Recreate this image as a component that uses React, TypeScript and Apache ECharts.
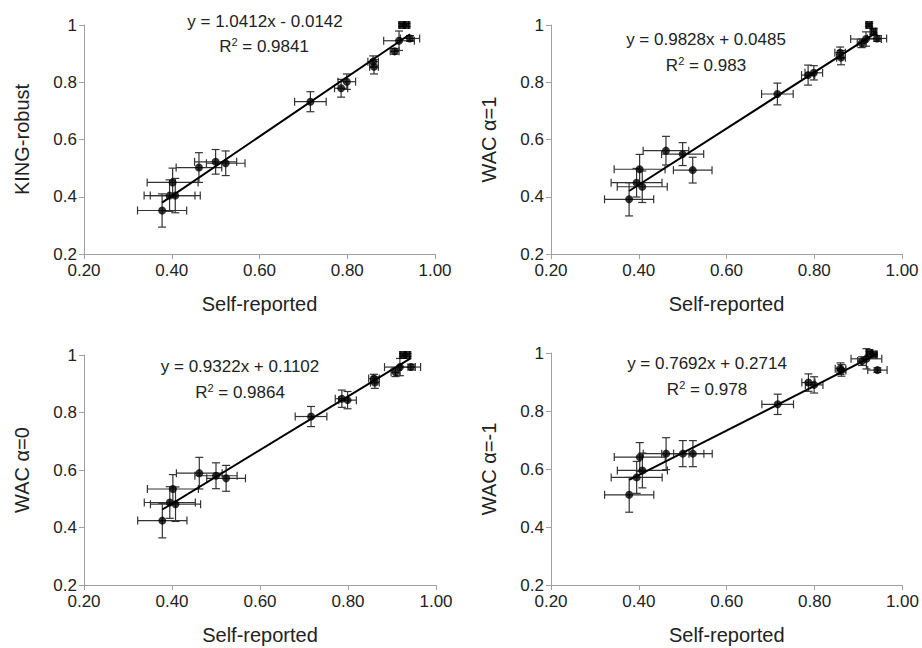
import React, { useEffect, useRef } from "react";
import * as echarts from "echarts";

const selfReported = [0.378, 0.395, 0.402, 0.408, 0.462, 0.5, 0.523, 0.716, 0.786, 0.799, 0.859, 0.861, 0.908, 0.918, 0.925, 0.935, 0.943];
const selfErr = [0.056, 0.058, 0.058, 0.057, 0.052, 0.048, 0.044, 0.036, 0.015, 0.02, 0.012, 0.01, 0.01, 0.035, 0.005, 0.005, 0.022];
const markerShapes = ["circle", "circle", "circle", "circle", "circle", "circle", "circle", "circle", "circle", "circle", "circle", "circle", "circle", "circle", "rect", "rect", "circle"];

const kingRobust = [0.352, 0.404, 0.45, 0.404, 0.502, 0.522, 0.517, 0.732, 0.779, 0.802, 0.872, 0.854, 0.908, 0.945, 1.0, 1.0, 0.953];
const kingErr = [0.058, 0.055, 0.05, 0.06, 0.052, 0.043, 0.043, 0.035, 0.031, 0.027, 0.02, 0.025, 0.01, 0.034, 0.005, 0.005, 0.01];

const wac1 = [0.391, 0.449, 0.496, 0.435, 0.561, 0.549, 0.493, 0.759, 0.825, 0.833, 0.903, 0.886, 0.936, 0.951, 1.0, 0.977, 0.953];
const wac1Err = [0.058, 0.05, 0.052, 0.055, 0.05, 0.04, 0.045, 0.038, 0.035, 0.025, 0.02, 0.025, 0.015, 0.025, 0.005, 0.01, 0.01];

const wac0 = [0.424, 0.487, 0.534, 0.481, 0.589, 0.58, 0.571, 0.786, 0.848, 0.843, 0.918, 0.904, 0.94, 0.958, 1.0, 1.0, 0.958];
const wac0Err = [0.06, 0.055, 0.05, 0.06, 0.055, 0.045, 0.045, 0.035, 0.03, 0.03, 0.015, 0.02, 0.015, 0.03, 0.005, 0.005, 0.01];

const wacM1 = [0.511, 0.571, 0.641, 0.595, 0.653, 0.653, 0.653, 0.823, 0.898, 0.89, 0.946, 0.94, 0.972, 0.98, 1.0, 0.995, 0.941];
const wacM1Err = [0.06, 0.055, 0.05, 0.06, 0.055, 0.045, 0.045, 0.035, 0.03, 0.028, 0.02, 0.02, 0.015, 0.035, 0.005, 0.005, 0.008];

const yNames = ["KING-robust", "WAC \u03b1=1", "WAC \u03b1=0", "WAC \u03b1=-1"];
const slopes = [1.0412, 0.9828, 0.9322, 0.7692];
const intercepts = [-0.0142, 0.0485, 0.1102, 0.2714];
const eqTexts = ["y = 1.0412x - 0.0142", "y = 0.9828x + 0.0485", "y = 0.9322x + 0.1102", "y = 0.7692x + 0.2714"];
const r2Texts = ["0.9841", "0.983", "0.9864", "0.978"];
const xTicks = [0.2, 0.4, 0.6, 0.8, 1.0];
const yTicks = [0.2, 0.4, 0.6, 0.8, 1.0];

const panelValues = [kingRobust, wac1, wac0, wacM1];
const panelErrs = [kingErr, wac1Err, wac0Err, wacM1Err];

const grids = [
  { left: 84, top: 25, width: 351, height: 229 },
  { left: 551, top: 25, width: 351, height: 229 },
  { left: 84, top: 355, width: 352, height: 230 },
  { left: 551, top: 353, width: 353, height: 232 },
];
const eqPos = [
  [265, 21, 264, 46],
  [706, 39, 706, 65],
  [240, 366, 240, 392],
  [707, 363, 707, 389],
];

const FONT = "'Liberation Sans', Arial, Helvetica, sans-serif";

export default function App() {
  const ref = useRef<HTMLDivElement>(null);
  useEffect(() => {
    document.body.style.margin = "0";
    if (!ref.current) return;
    const chart = echarts.init(ref.current, undefined, { renderer: "svg" });
    const xMin = Math.min(...selfReported);
    const xMax = Math.max(...selfReported);

    const xAxis: any[] = [];
    const yAxis: any[] = [];
    const series: any[] = [];
    const graphic: any[] = [];

    grids.forEach((g, i) => {
      xAxis.push({
        type: "value",
        gridIndex: i,
        min: xTicks[0],
        max: xTicks[xTicks.length - 1],
        interval: 0.2,
        name: "Self-reported",
        nameLocation: "middle",
        nameGap: 40,
        nameTextStyle: { fontSize: 20, color: "#222", fontFamily: FONT },
        axisLine: { lineStyle: { color: "#a0a0a0", width: 1 } },
        axisTick: { show: true, length: 5, lineStyle: { color: "#a0a0a0" } },
        axisLabel: { fontSize: 17, color: "#222", margin: 8, fontFamily: FONT, formatter: (v: number) => v.toFixed(2) },
        splitLine: { show: false },
      });
      yAxis.push({
        type: "value",
        gridIndex: i,
        min: yTicks[0],
        max: yTicks[yTicks.length - 1],
        interval: 0.2,
        name: yNames[i],
        nameLocation: "middle",
        nameGap: 52,
        nameTextStyle: { fontSize: 20, color: "#222", fontFamily: FONT },
        axisLine: { show: true, lineStyle: { color: "#a0a0a0", width: 1 } },
        axisTick: { show: true, length: 5, lineStyle: { color: "#a0a0a0" } },
        axisLabel: { fontSize: 17, color: "#222", margin: 7, fontFamily: FONT, formatter: (v: number) => (Math.abs(v - 1) < 1e-9 ? "1" : v.toFixed(1)) },
        splitLine: { show: false },
      });

      const vals = panelValues[i];
      const errs = panelErrs[i];
      const errData = selfReported.map((x, k) => [x, vals[k], selfErr[k], errs[k]]);
      series.push({
        type: "custom",
        xAxisIndex: i,
        yAxisIndex: i,
        data: errData,
        encode: { x: 0, y: 1 },
        z: 2,
        renderItem: (params: any, api: any) => {
          const x = api.value(0);
          const y = api.value(1);
          const ex = api.value(2);
          const ey = api.value(3);
          const l = api.coord([x - ex, y]);
          const r = api.coord([x + ex, y]);
          const b = api.coord([x, y - ey]);
          const t = api.coord([x, y + ey]);
          const st = { stroke: "#333", lineWidth: 1.2 };
          const cap = 4;
          return {
            type: "group",
            children: [
              { type: "line", shape: { x1: l[0], y1: l[1], x2: r[0], y2: r[1] }, style: st },
              { type: "line", shape: { x1: l[0], y1: l[1] - cap, x2: l[0], y2: l[1] + cap }, style: st },
              { type: "line", shape: { x1: r[0], y1: r[1] - cap, x2: r[0], y2: r[1] + cap }, style: st },
              { type: "line", shape: { x1: b[0], y1: b[1], x2: t[0], y2: t[1] }, style: st },
              { type: "line", shape: { x1: b[0] - cap, y1: b[1], x2: b[0] + cap, y2: b[1] }, style: st },
              { type: "line", shape: { x1: t[0] - cap, y1: t[1], x2: t[0] + cap, y2: t[1] }, style: st },
            ],
          };
        },
      });
      series.push({
        type: "line",
        xAxisIndex: i,
        yAxisIndex: i,
        data: [
          [xMin, slopes[i] * xMin + intercepts[i]],
          [xMax, slopes[i] * xMax + intercepts[i]],
        ],
        symbol: "none",
        lineStyle: { color: "#000", width: 2 },
        z: 3,
      });
      series.push({
        type: "scatter",
        xAxisIndex: i,
        yAxisIndex: i,
        data: selfReported.map((x, k) => ({ value: [x, vals[k]], symbol: markerShapes[k] })),
        symbolSize: 8,
        itemStyle: { color: "#000" },
        z: 4,
      });

      const p = eqPos[i];
      graphic.push({
        type: "text",
        x: p[0],
        y: p[1],
        style: { text: eqTexts[i], fontSize: 17, fontFamily: FONT, fill: "#222", align: "center", verticalAlign: "middle" },
      });
      graphic.push({
        type: "text",
        x: p[2],
        y: p[3],
        style: {
          text: "R{sup|2} = " + r2Texts[i],
          fontSize: 17,
          fontFamily: FONT,
          fill: "#222",
          align: "center",
          verticalAlign: "middle",
          rich: { sup: { fontSize: 11, fontFamily: FONT, fill: "#222", verticalAlign: "top", padding: [0, 0, 8, 0] } },
        },
      });
    });

    chart.setOption({
      animation: false,
      textStyle: { fontFamily: FONT },
      grid: grids.map((g) => ({ ...g, containLabel: false })),
      xAxis,
      yAxis,
      series,
      graphic,
    });
    return () => chart.dispose();
  }, []);
  return <div ref={ref} style={{ width: 922, height: 648 }} />;
}
